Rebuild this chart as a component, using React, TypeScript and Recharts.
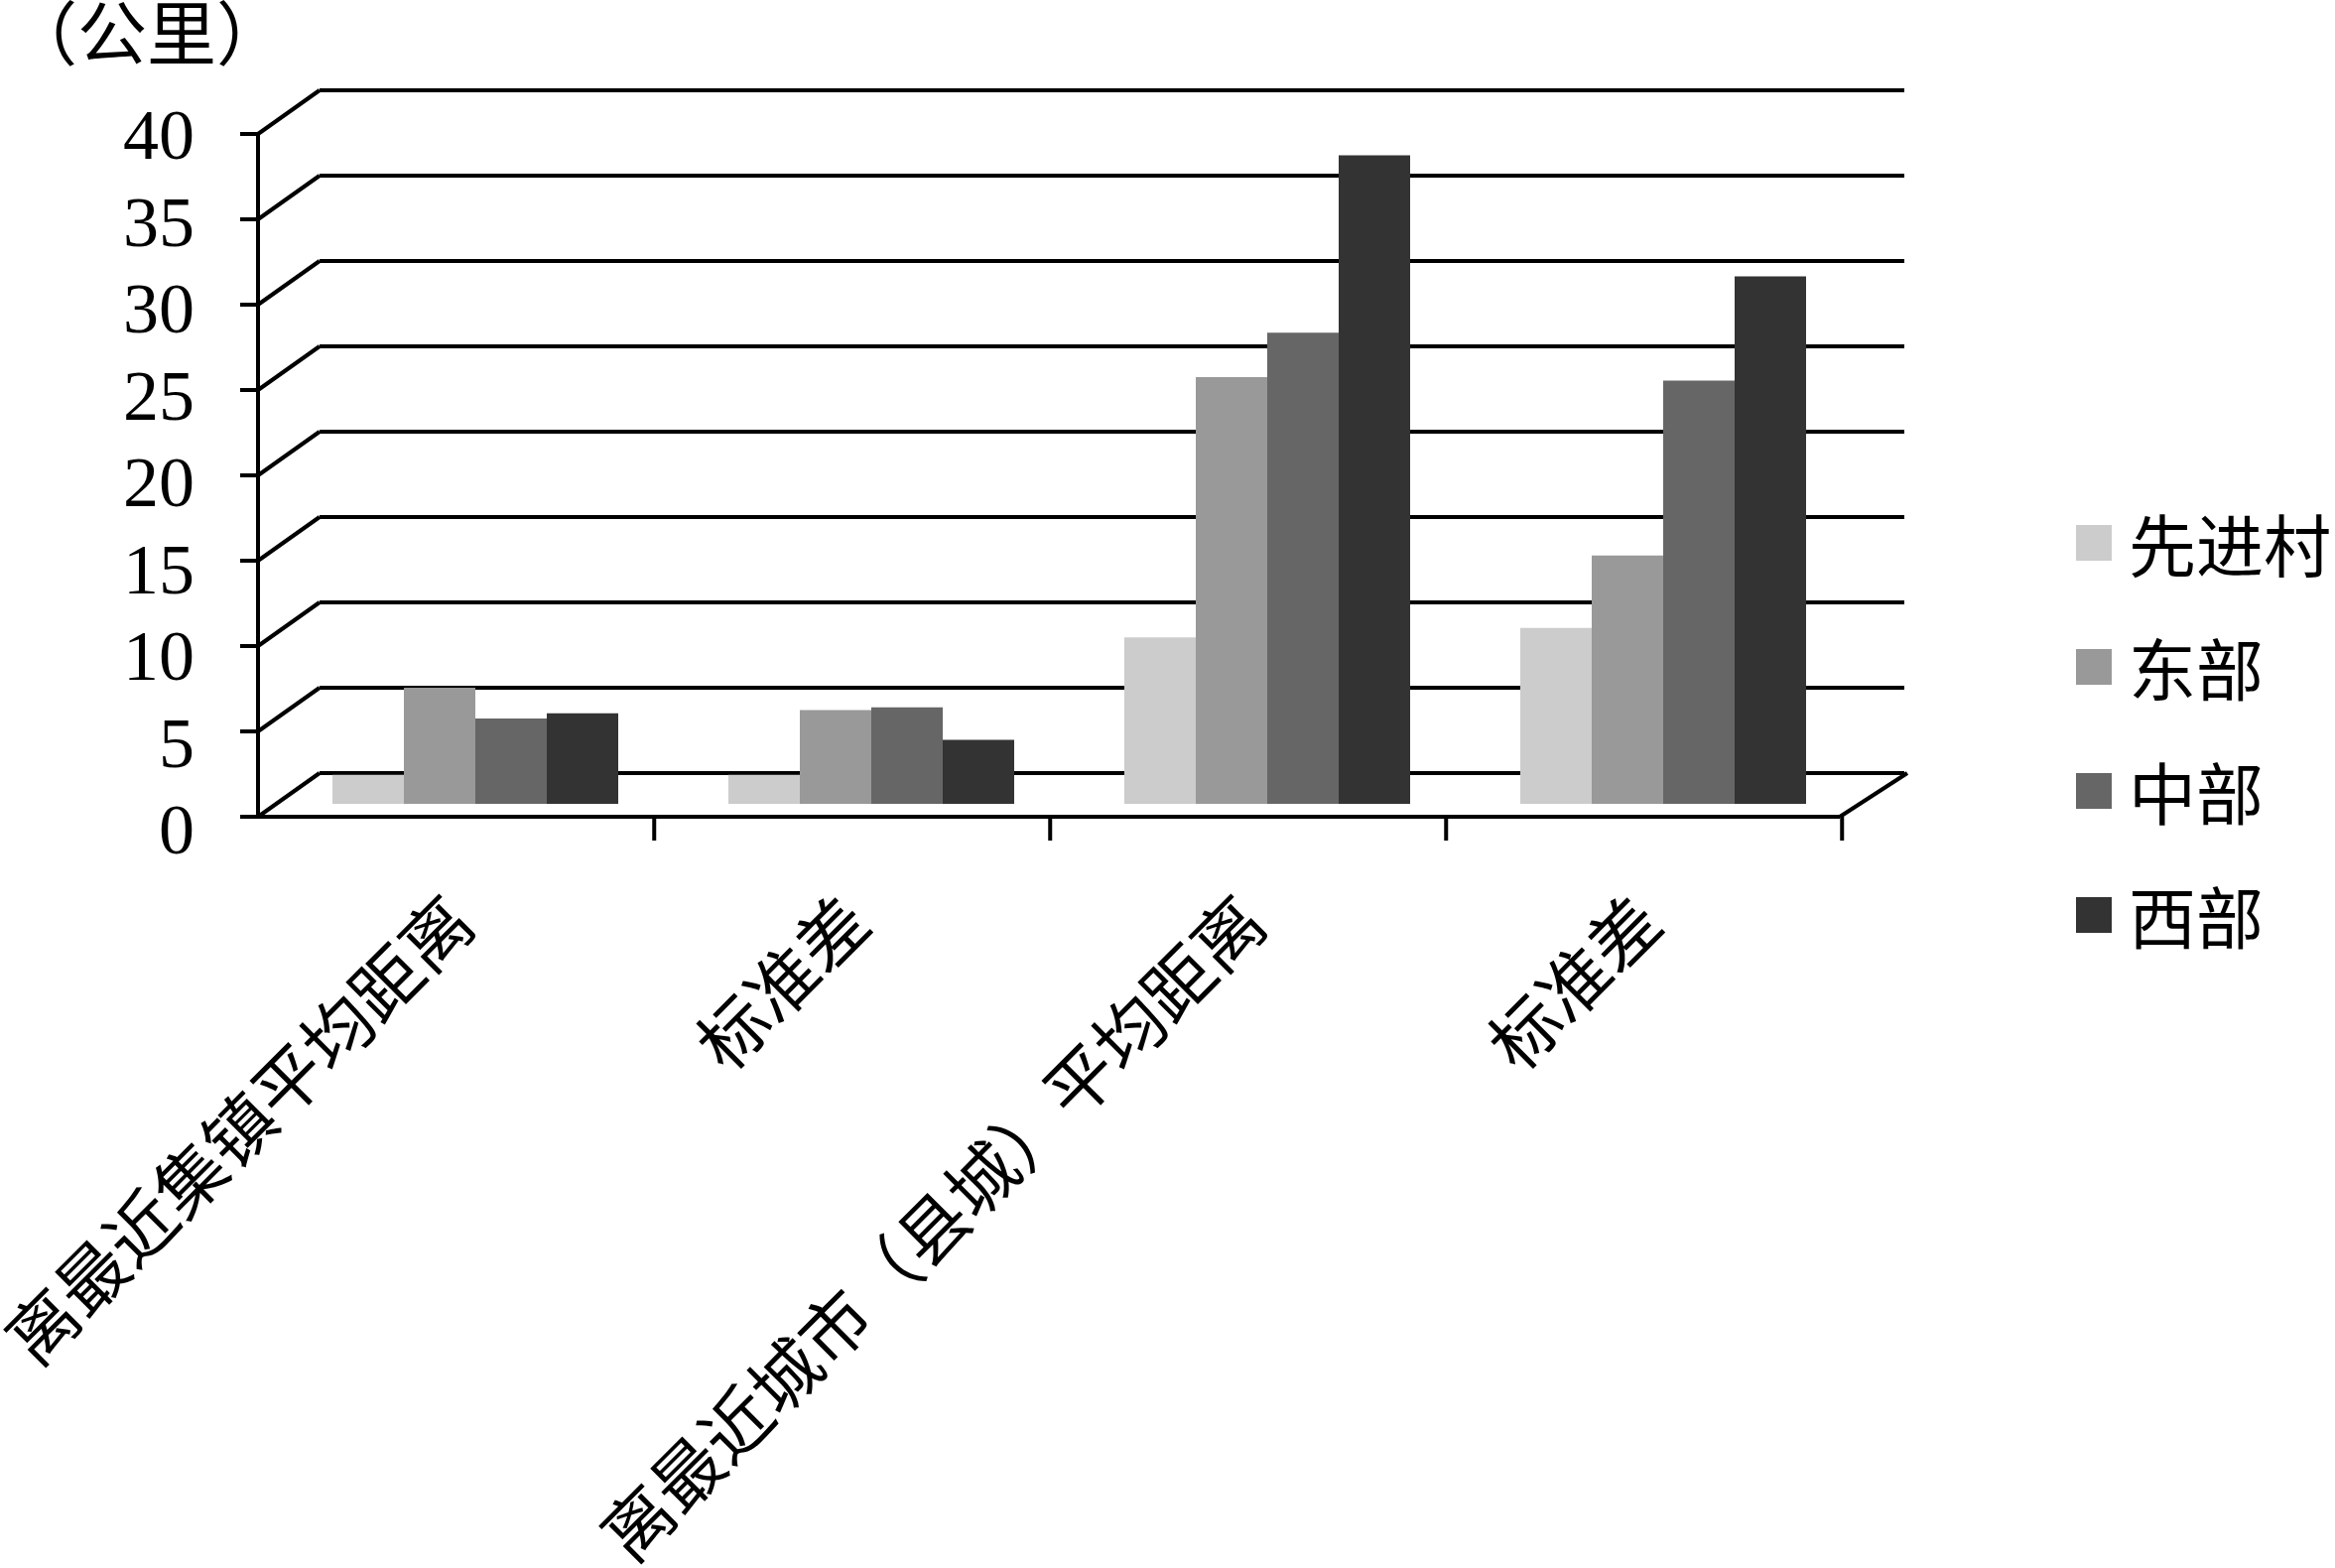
import React from "react";
import { BarChart, Bar, XAxis, YAxis, CartesianGrid, Legend } from "recharts";

const categories = ["离最近集镇平均距离", "标准差", "离最近城市（县城）平均距离", "标准差 "];
const xianjin = [1.7, 1.7, 9.75, 10.3];
const dongbu = [6.8, 5.5, 25.0, 14.55];
const zhongbu = [5.0, 5.65, 27.6, 24.8];
const xibu = [5.3, 3.75, 38.0, 30.9];
const seriesNames = ["先进村", "东部", "中部", "西部"];
const seriesColors = ["#cccccc", "#999999", "#666666", "#333333"];
const yTicks = [0, 5, 10, 15, 20, 25, 30, 35, 40];
const rows = categories.map((c, i) => ({
  name: c,
  [seriesNames[0]]: xianjin[i],
  [seriesNames[1]]: dongbu[i],
  [seriesNames[2]]: zhongbu[i],
  [seriesNames[3]]: xibu[i],
}));

const W = 2353, H = 1580;
const PLOT = { left: 280.5, right: 1876.5, top: 122, bottom: 810 };
const FRONT_DY = 13, BACK_DY = -31, FRONT_X = 260, BACK_X = 322, WALL_W = 1597;
const CJK = "'Noto Sans CJK SC', sans-serif";
const SERIF = "'Liberation Serif', serif";
const stroke = { stroke: "#000", strokeWidth: 4, fill: "none" };

const gridLine = (p: any) => {
  const y = p.y1;
  const isZero = Math.abs(y - PLOT.bottom) < 1;
  return (
    <g key={p.key ?? y}>
      <line x1={FRONT_X} y1={y + FRONT_DY} x2={BACK_X} y2={y + BACK_DY} {...stroke} />
      <line x1={BACK_X} y1={y + BACK_DY} x2={BACK_X + WALL_W} y2={y + BACK_DY} {...stroke} />
      <line x1={FRONT_X - 18} y1={y + FRONT_DY} x2={FRONT_X} y2={y + FRONT_DY} {...stroke} />
      {isZero && (
        <>
          <line x1={FRONT_X} y1={y + FRONT_DY} x2={FRONT_X} y2={PLOT.top + FRONT_DY} {...stroke} />
          <line x1={FRONT_X} y1={y + FRONT_DY} x2={FRONT_X + 1594} y2={y + FRONT_DY} {...stroke} />
          <line x1={FRONT_X + 1594} y1={y + FRONT_DY} x2={BACK_X + WALL_W + 3} y2={y + BACK_DY} {...stroke} />
        </>
      )}
    </g>
  );
};

// The reference's y labels are spaced slightly wider than its tick marks.
const LABEL_TOP_BASELINE = 160;
const LABEL_STRETCH = 700 / 688;
const YTick = (p: any) => (
  <text
    x={196}
    y={LABEL_TOP_BASELINE + (p.y - PLOT.top) * LABEL_STRETCH}
    textAnchor="end"
    fontFamily={SERIF}
    fontSize={72}
    fill="#000"
  >
    {p.payload.value}
  </text>
);

const XTick = (p: any) => {
  const step = 398.5;
  const tx = p.x - 20 + step / 2;
  const baseY = PLOT.bottom + FRONT_DY;
  return (
    <g>
      <line x1={tx} y1={baseY} x2={tx} y2={baseY + 24} {...stroke} />
      <text
        transform={`translate(${p.x - 11},${baseY + 98}) rotate(-45)`}
        textAnchor="end"
        dominantBaseline="middle"
        fontFamily={CJK}
        fontSize={70}
        fill="#000"
      >
        {String(p.payload.value).trim()}
      </text>
    </g>
  );
};

const LegendBox = () => (
  <div style={{ width: 260 }}>
    {seriesNames.map((n, i) => (
      <div key={n} style={{ display: "flex", alignItems: "center", height: 125, fontFamily: CJK, fontSize: 68, lineHeight: "68px", color: "#000" }}>
        <span style={{ width: 36, height: 36, background: seriesColors[i], marginRight: 17, flex: "none" }} />
        <span style={{ whiteSpace: "nowrap" }}>{n}</span>
      </div>
    ))}
  </div>
);

export default function App() {
  return (
    <div style={{ position: "absolute", left: 0, top: 0, width: W, height: H, background: "#fff" }}>
      <BarChart
        width={W}
        height={H}
        data={rows}
        margin={{ left: 0, right: W - PLOT.right, top: PLOT.top, bottom: 0 }}
        barCategoryGap="13.66%"
        barGap={0}
      >
        <CartesianGrid vertical={false} horizontal={gridLine} />
        <XAxis dataKey="name" axisLine={false} tickLine={false} tick={XTick} interval={0} height={H - PLOT.bottom} />
        <YAxis domain={[0, 40]} ticks={yTicks} axisLine={false} tickLine={false} tick={YTick} width={PLOT.left} interval={0} />
        {seriesNames.map((n, i) => (
          <Bar key={n} dataKey={n} fill={seriesColors[i]} isAnimationActive={false} />
        ))}
        <Legend content={LegendBox} layout="vertical" align="center" verticalAlign="middle" wrapperStyle={{ left: 2092, top: 484, width: 260 }} />
      </BarChart>
      <div style={{ position: "absolute", left: 8, top: 0, fontFamily: CJK, fontSize: 70, lineHeight: "56px", paddingTop: 2, color: "#000", whiteSpace: "nowrap" }}>（公里）</div>
    </div>
  );
}
